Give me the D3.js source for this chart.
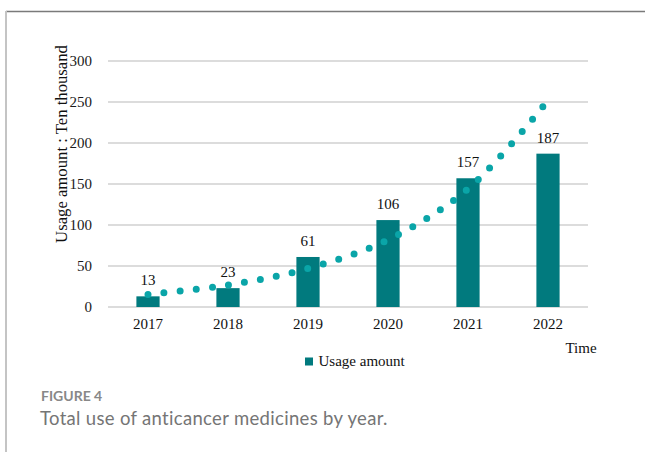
<!DOCTYPE html>
<html>
<head>
<meta charset="utf-8">
<script src="https://cdn.jsdelivr.net/npm/d3@7"></script>
<style>
  body { margin: 0; background: #fff; }
  svg { display: block; }
</style>
</head>
<body>
<div id="chart"></div>
<script>
// data
const years = ["2017", "2018", "2019", "2020", "2021", "2022"];
const usage = [13, 23, 61, 106, 157, 187];
// trendline values at each year (dotted)
const trend = [15.3, 26.8, 47, 82, 144, 252];
const yTicks = [0, 50, 100, 150, 200, 250, 300];

const W = 645, H = 452;
const serif = "'Liberation Serif', 'Times New Roman', serif";

const svg = d3.select("#chart")
  .append("svg")
  .attr("width", W)
  .attr("height", H);

// frame
svg.append("line").attr("x1", 6).attr("x2", W).attr("y1", 11.5).attr("y2", 11.5)
  .attr("stroke", "#7a7a7a").attr("stroke-width", 1.5);
svg.append("line").attr("x1", 6).attr("x2", 6).attr("y1", 11).attr("y2", H)
  .attr("stroke", "#c4c4c4").attr("stroke-width", 2);

const x = d3.scaleBand()
  .domain(years)
  .range([108, 588])
  .paddingInner(0.71)
  .paddingOuter(0.355);

const y = d3.scaleLinear()
  .domain([0, 300])
  .range([307, 61]);

// gridlines
svg.append("g")
  .selectAll("line")
  .data(yTicks)
  .join("line")
  .attr("x1", 108).attr("x2", 588)
  .attr("y1", d => y(d)).attr("y2", d => y(d))
  .attr("stroke", "#dcdcdc")
  .attr("stroke-width", 2);

// y tick labels
svg.append("g")
  .selectAll("text")
  .data(yTicks)
  .join("text")
  .attr("x", 92)
  .attr("y", d => y(d) + 5)
  .attr("text-anchor", "end")
  .attr("font-family", serif)
  .attr("font-size", 15)
  .attr("fill", "#1a1a1a")
  .text(d => d);

// bars
svg.append("g")
  .selectAll("rect")
  .data(usage)
  .join("rect")
  .attr("x", (d, i) => x(years[i]))
  .attr("width", x.bandwidth())
  .attr("y", d => y(d))
  .attr("height", d => y(0) - y(d))
  .attr("fill", "#017a7e");

// value labels
svg.append("g")
  .selectAll("text")
  .data(usage)
  .join("text")
  .attr("x", (d, i) => x(years[i]) + x.bandwidth() / 2)
  .attr("y", d => y(d) - 11)
  .attr("text-anchor", "middle")
  .attr("font-family", serif)
  .attr("font-size", 15)
  .attr("fill", "#111")
  .text(d => d);

// dotted trendline
const line = d3.line()
  .x((d, i) => x(years[i]) + x.bandwidth() / 2)
  .y(d => y(d))
  .curve(d3.curveCatmullRom);

svg.append("path")
  .datum(trend)
  .attr("d", line)
  .attr("fill", "none")
  .attr("stroke", "#0aa5a8")
  .attr("stroke-width", 7)
  .attr("stroke-linecap", "round")
  .attr("stroke-dasharray", "0 16.2");

// x labels
svg.append("g")
  .selectAll("text")
  .data(years)
  .join("text")
  .attr("x", d => x(d) + x.bandwidth() / 2)
  .attr("y", 329)
  .attr("text-anchor", "middle")
  .attr("font-family", serif)
  .attr("font-size", 15)
  .attr("fill", "#111")
  .text(d => d);

// axis titles
svg.append("text")
  .attr("transform", "translate(67,144) rotate(-90)")
  .attr("text-anchor", "middle")
  .attr("font-family", serif)
  .attr("font-size", 16.7)
  .attr("fill", "#111")
  .text("Usage amount : Ten thousand");

svg.append("text")
  .attr("x", 581)
  .attr("y", 353)
  .attr("text-anchor", "middle")
  .attr("font-family", serif)
  .attr("font-size", 15)
  .attr("fill", "#111")
  .text("Time");

// legend
svg.append("rect")
  .attr("x", 305).attr("y", 357.5)
  .attr("width", 8).attr("height", 8)
  .attr("fill", "#017a7e");
svg.append("text")
  .attr("x", 318.5)
  .attr("y", 366)
  .attr("font-family", serif)
  .attr("font-size", 15)
  .attr("fill", "#111")
  .text("Usage amount");

// caption
svg.append("text")
  .attr("x", 41)
  .attr("y", 400.5)
  .attr("font-family", "Lato, 'Open Sans', sans-serif")
  .attr("font-size", 14)
  .attr("font-weight", 700)
  .attr("fill", "#888")
  .text("FIGURE 4");
svg.append("text")
  .attr("x", 40)
  .attr("y", 425)
  .attr("font-family", "Lato, 'Open Sans', sans-serif")
  .attr("font-size", 18.5)
  .attr("letter-spacing", 0.32)
  .attr("fill", "#757575")
  .text("Total use of anticancer medicines by year.");
</script>
</body>
</html>
